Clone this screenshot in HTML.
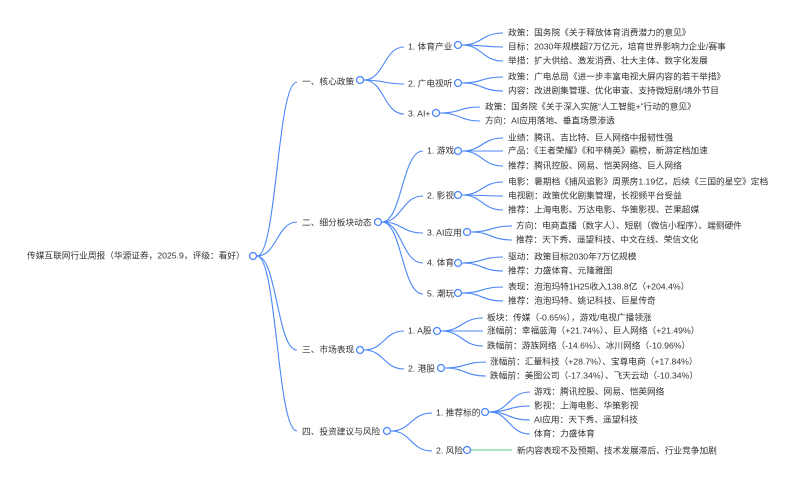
<!DOCTYPE html>
<html><head><meta charset="utf-8"><style>
html,body{margin:0;padding:0;background:#fff;}
svg{display:block}
text{font-family:"Liberation Sans","Noto Sans CJK SC",sans-serif;font-size:8.7px;fill:#333;dominant-baseline:middle}
path{fill:none;stroke:#4a86f7;stroke-width:1.1}
circle{fill:#fff;stroke:#4a86f7;stroke-width:1.3}
</style></head><body>
<svg width="800" height="482" viewBox="0 0 800 482">
<path d="M257 256 C277 256 277 82 297 82"/>
<path d="M257 256 C277 256 277 222 297 222"/>
<path d="M257 256 C277 256 277 350 297 350"/>
<path d="M257 256 C277 256 277 431 297 431"/>
<path d="M364 80 C384 80 384 47 404 47"/>
<path d="M364 80 C384 80 384 84 404 84"/>
<path d="M364 80 C384 80 384 114 404 114"/>
<path d="M462 45 C482 45 482 33 503 33"/>
<path d="M462 45 C482 45 482 47 503 47"/>
<path d="M462 45 C482 45 482 61 503 61"/>
<path d="M462 83 C482 83 482 77 503 77"/>
<path d="M462 83 C482 83 482 91 503 91"/>
<path d="M440 113 C460 113 460 107 480 107"/>
<path d="M440 113 C460 113 460 121 480 121"/>
<path d="M382 222 C402 222 402 151 423 151"/>
<path d="M382 222 C402 222 402 196 423 196"/>
<path d="M382 222 C402 222 402 233 423 233"/>
<path d="M382 222 C402 222 402 263 423 263"/>
<path d="M382 222 C402 222 402 294 423 294"/>
<path d="M462 151 C482 151 482 138 503 138"/>
<path d="M462 151 C482 151 482 151 503 151"/>
<path d="M462 151 C482 151 482 166 503 166"/>
<path d="M462 195 C482 195 482 182 503 182"/>
<path d="M462 195 C482 195 482 196 503 196"/>
<path d="M462 195 C482 195 482 210 503 210"/>
<path d="M471 232 C491 232 491 226 512 226"/>
<path d="M471 232 C491 232 491 240 512 240"/>
<path d="M462 263 C482 263 482 257 503 257"/>
<path d="M462 263 C482 263 482 271 503 271"/>
<path d="M462 293 C482 293 482 287 503 287"/>
<path d="M462 293 C482 293 482 301 503 301"/>
<path d="M364 350 C384 350 384 331 404 331"/>
<path d="M364 350 C384 350 384 369 404 369"/>
<path d="M441 331 C462 331 462 318 483 318"/>
<path d="M441 331 C462 331 462 331 483 331"/>
<path d="M441 331 C462 331 462 346 483 346"/>
<path d="M445 368 C465 368 465 362 486 362"/>
<path d="M445 368 C465 368 465 376 486 376"/>
<path d="M391 431 C411 431 411 413 432 413"/>
<path d="M391 431 C411 431 411 451 432 451"/>
<path d="M489 412 C509 412 509 392 530 392"/>
<path d="M489 412 C509 412 509 406 530 406"/>
<path d="M489 412 C509 412 509 420 530 420"/>
<path d="M489 412 C509 412 509 434 530 434"/>
<path d="M471 450 L512 450" style="stroke:#8fdca8;stroke-width:1.5"/>

<circle cx="253" cy="256" r="3.5"/>
<circle cx="360" cy="80" r="3.5"/>
<circle cx="378" cy="222" r="3.5"/>
<circle cx="360" cy="350" r="3.5"/>
<circle cx="387" cy="431" r="3.5"/>
<circle cx="458" cy="45" r="3.5"/>
<circle cx="458" cy="83" r="3.5"/>
<circle cx="436" cy="113" r="3.5"/>
<circle cx="458" cy="151" r="3.5"/>
<circle cx="458" cy="195" r="3.5"/>
<circle cx="467" cy="232" r="3.5"/>
<circle cx="458" cy="263" r="3.5"/>
<circle cx="458" cy="293" r="3.5"/>
<circle cx="437" cy="331" r="3.5"/>
<circle cx="441" cy="368" r="3.5"/>
<circle cx="485" cy="412" r="3.5"/>
<circle cx="467" cy="450" r="3.5"/>

<text x="27" y="256">传媒互联网行业周报（华源证券，2025.9，评级：看好）</text>
<text x="302" y="82">一、核心政策</text>
<text x="302" y="223">二、细分板块动态</text>
<text x="302" y="350">三、市场表现</text>
<text x="302" y="432">四、投资建议与风险</text>

<text x="408" y="47">1. 体育产业</text>
<text x="408" y="84">2. 广电视听</text>
<text x="408" y="114">3. AI+</text>
<text x="508" y="33">政策：国务院《关于释放体育消费潜力的意见》</text>
<text x="508" y="47">目标：2030年规模超7万亿元，培育世界影响力企业/赛事</text>
<text x="508" y="61">举措：扩大供给、激发消费、壮大主体、数字化发展</text>
<text x="508" y="77">政策：广电总局《进一步丰富电视大屏内容的若干举措》</text>
<text x="508" y="91">内容：改进剧集管理、优化审查、支持微短剧/境外节目</text>
<text x="485" y="107">政策：国务院《关于深入实施“人工智能+”行动的意见》</text>
<text x="485" y="121">方向：AI应用落地、垂直场景渗透</text>

<text x="427" y="151">1. 游戏</text>
<text x="427" y="196">2. 影视</text>
<text x="427" y="233">3. AI应用</text>
<text x="427" y="263">4. 体育</text>
<text x="427" y="294">5. 潮玩</text>
<text x="508" y="138">业绩：腾讯、吉比特、巨人网络中报韧性强</text>
<text x="508" y="151">产品：《王者荣耀》《和平精英》霸榜，新游定档加速</text>
<text x="508" y="166">推荐：腾讯控股、网易、恺英网络、巨人网络</text>
<text x="508" y="182">电影：暑期档《捕风追影》周票房1.19亿，后续《三国的星空》定档</text>
<text x="508" y="196">电视剧：政策优化剧集管理，长视频平台受益</text>
<text x="508" y="210">推荐：上海电影、万达电影、华策影视、芒果超媒</text>
<text x="516" y="226">方向：电商直播（数字人）、短剧（微信小程序）、端侧硬件</text>
<text x="516" y="240">推荐：天下秀、遥望科技、中文在线、荣信文化</text>
<text x="508" y="257">驱动：政策目标2030年7万亿规模</text>
<text x="508" y="271">推荐：力盛体育、元隆雅图</text>
<text x="508" y="287">表现：泡泡玛特1H25收入138.8亿（+204.4%）</text>
<text x="508" y="301">推荐：泡泡玛特、姚记科技、巨星传奇</text>

<text x="408" y="331">1. A股</text>
<text x="408" y="369">2. 港股</text>
<text x="487" y="318">板块：传媒（-0.65%），游戏/电视广播领涨</text>
<text x="487" y="331">涨幅前：幸福蓝海（+21.74%）、巨人网络（+21.49%）</text>
<text x="487" y="346">跌幅前：游族网络（-14.6%）、冰川网络（-10.96%）</text>
<text x="490" y="362">涨幅前：汇量科技（+28.7%）、宝尊电商（+17.84%）</text>
<text x="490" y="376">跌幅前：美图公司（-17.34%）、飞天云动（-10.34%）</text>

<text x="436" y="413">1. 推荐标的</text>
<text x="436" y="451">2. 风险</text>
<text x="534" y="392">游戏：腾讯控股、网易、恺英网络</text>
<text x="534" y="406">影视：上海电影、华策影视</text>
<text x="534" y="420">AI应用：天下秀、遥望科技</text>
<text x="534" y="434">体育：力盛体育</text>
<text x="517" y="451">新内容表现不及预期、技术发展滞后、行业竞争加剧</text>
</svg>
</body></html>
